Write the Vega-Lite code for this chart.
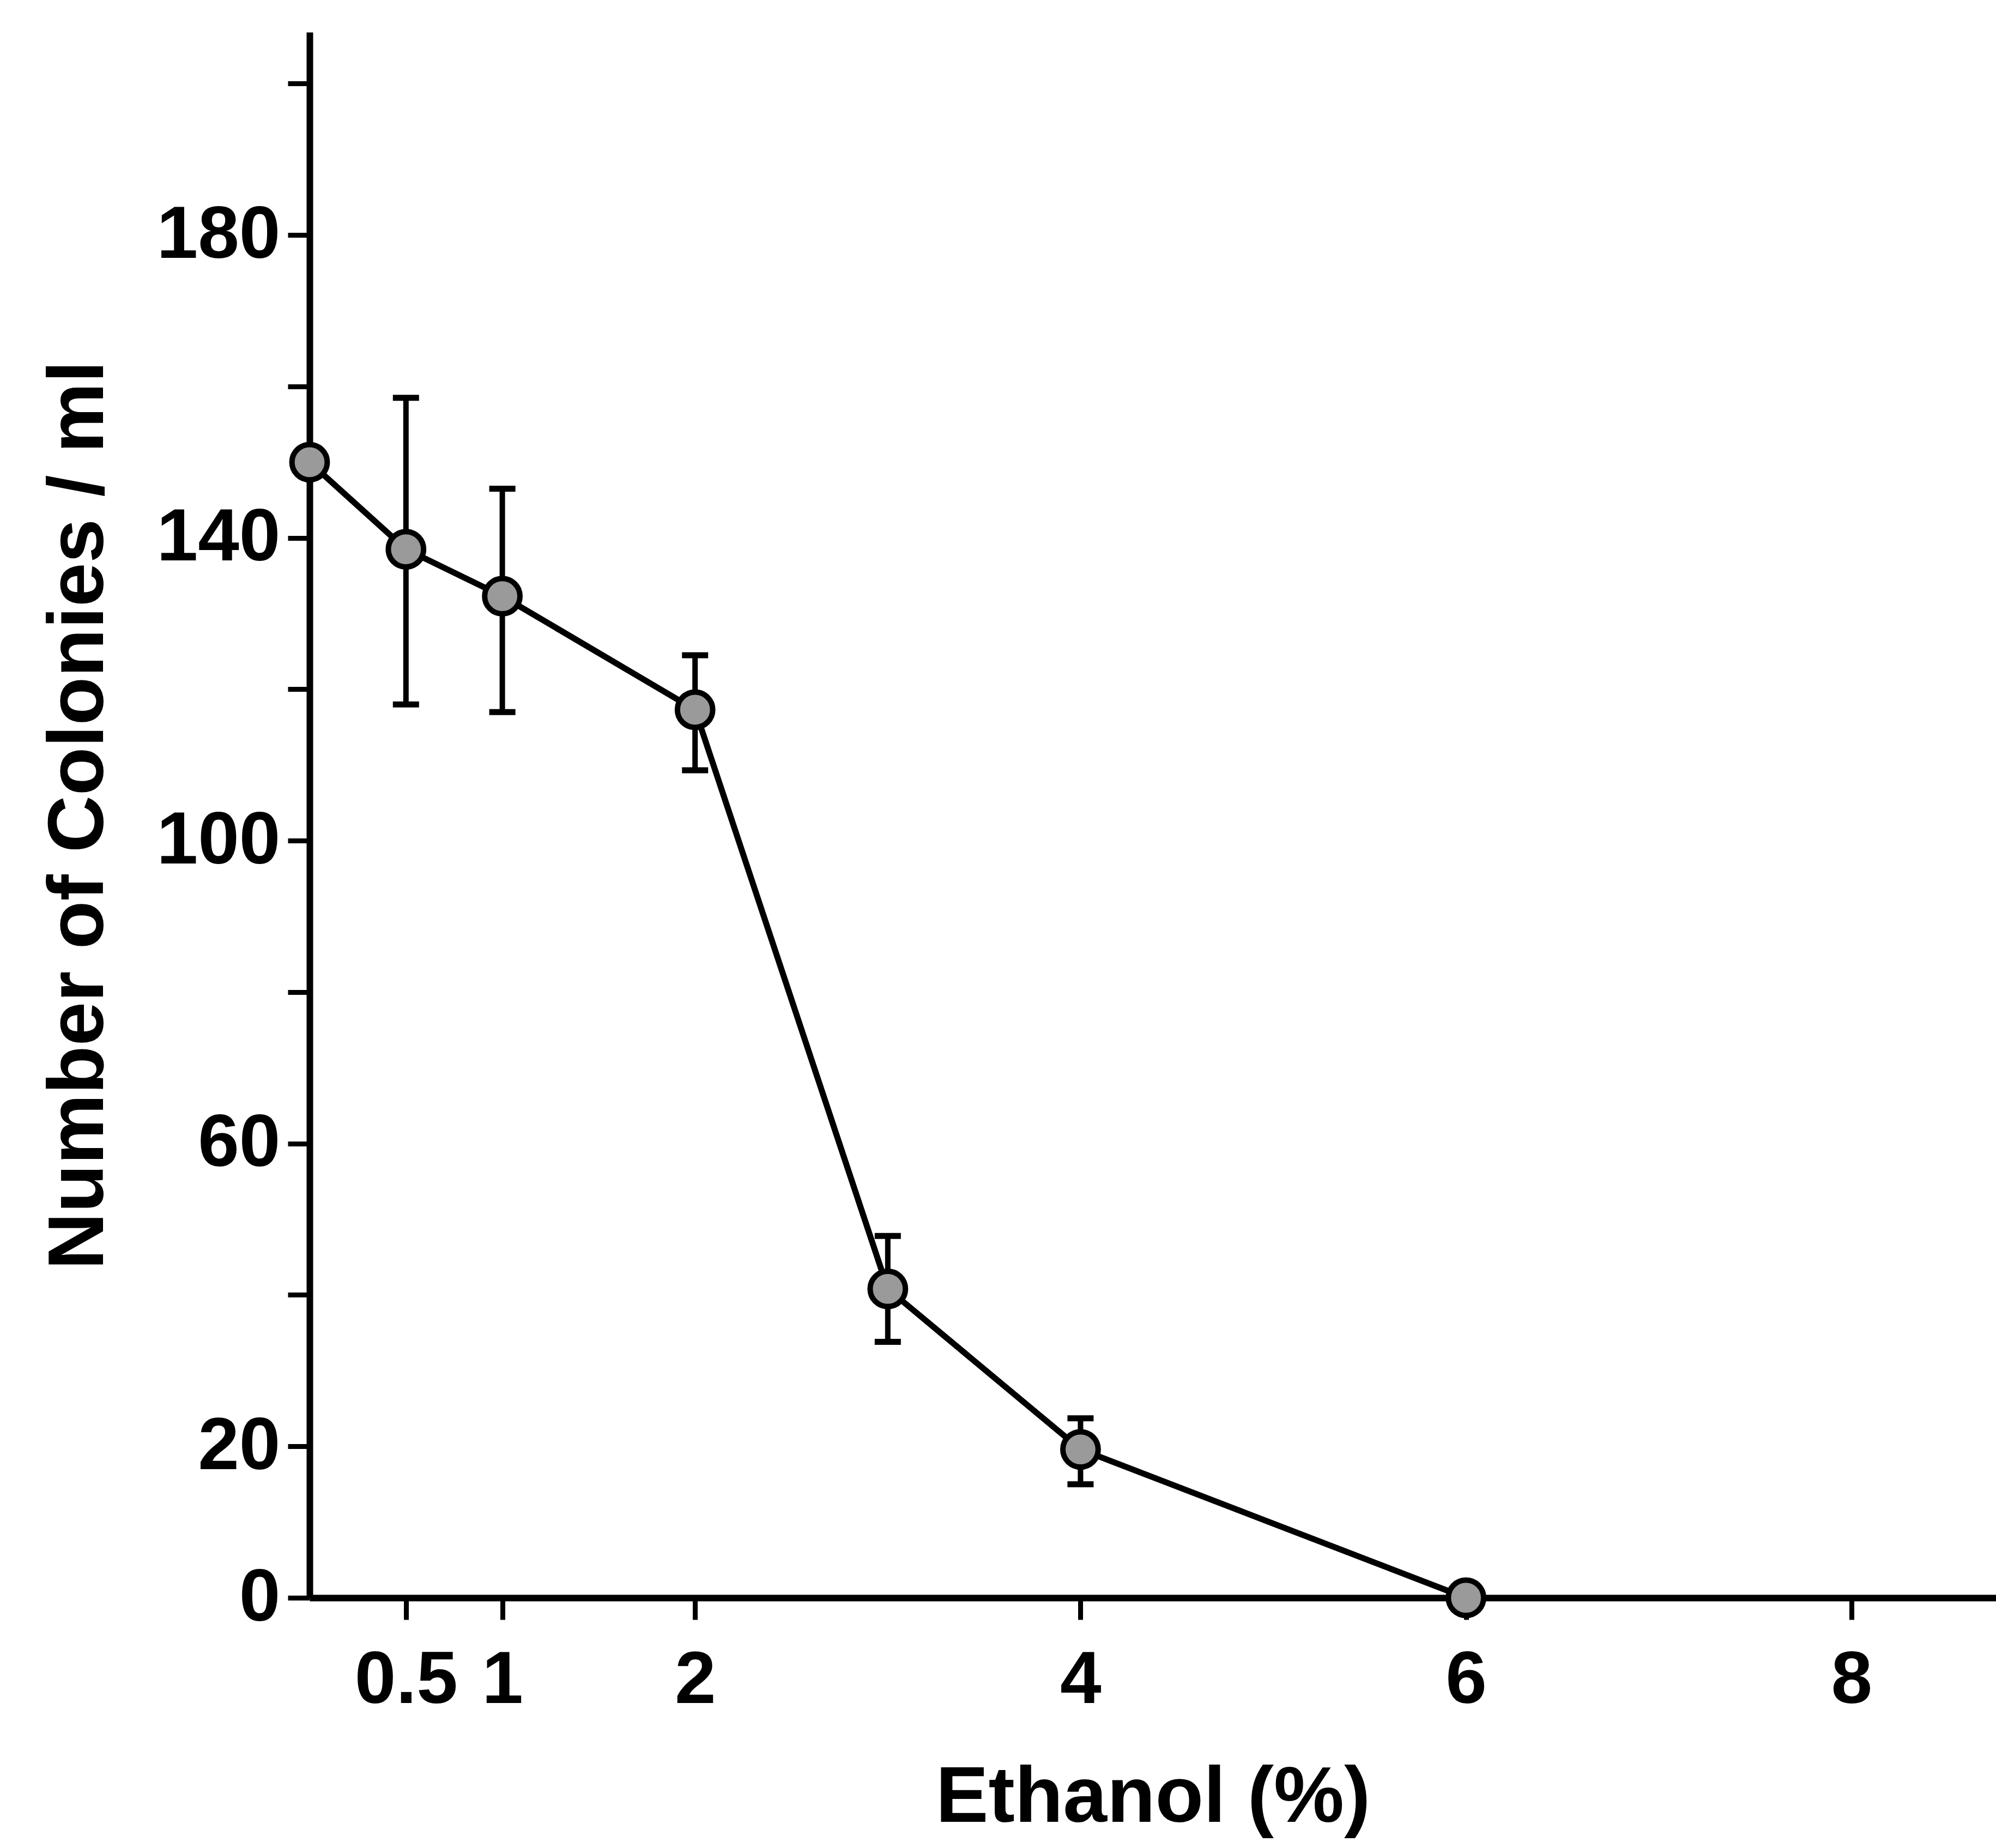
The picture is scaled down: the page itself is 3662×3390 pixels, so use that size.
{
  "$schema": "https://vega.github.io/schema/vega-lite/v6.json",
  "autosize": {"type": "none"},
  "padding": {"left": 568, "top": 59, "right": 0, "bottom": 459},
  "width": 3094,
  "height": 2872,
  "background": "white",
  "config": {
    "view": {"stroke": null},
    "font": "Liberation Sans",
    "axis": {
      "domainColor": "black",
      "domainWidth": 12,
      "tickColor": "black",
      "tickWidth": 9,
      "tickSize": 40,
      "grid": false,
      "labelFont": "Liberation Sans",
      "labelFontSize": 136,
      "labelFontWeight": "bold",
      "labelColor": "black",
      "labelLimit": 0,
      "titleFont": "Liberation Sans",
      "titleFontSize": 145,
      "titleFontWeight": "bold",
      "titleColor": "black",
      "titleLimit": 0
    }
  },
  "data": {
    "values": [
      {"ethanol": 0, "colonies": 150, "lo": null, "hi": null},
      {"ethanol": 0.5, "colonies": 138.5, "lo": 118, "hi": 158.5},
      {"ethanol": 1, "colonies": 132.3, "lo": 117, "hi": 146.5},
      {"ethanol": 2, "colonies": 117.3, "lo": 109.3, "hi": 124.5},
      {"ethanol": 3, "colonies": 40.8, "lo": 33.8, "hi": 47.8},
      {"ethanol": 4, "colonies": 19.6, "lo": 15, "hi": 23.7},
      {"ethanol": 6, "colonies": 0, "lo": null, "hi": null}
    ]
  },
  "encoding": {
    "x": {
      "field": "ethanol",
      "type": "quantitative",
      "scale": {"domain": [0, 8.75], "nice": false, "zero": false},
      "axis": {
        "title": "Ethanol (%)",
        "values": [0.5, 1, 2, 4, 6, 8],
        "format": "~g",
        "labelPadding": 45,
        "titlePadding": 95,
        "labelFlush": false
      }
    },
    "y": {
      "field": "colonies",
      "type": "quantitative",
      "scale": {"domain": [0, 206.8], "nice": false},
      "axis": {
        "title": "Number of  Colonies / ml",
        "values": [0, 20, 40, 60, 80, 100, 120, 140, 160, 180, 200],
        "labelExpr": "indexof([0, 20, 60, 100, 140, 180], datum.value) >= 0 ? datum.label : ''",
        "labelPadding": 14,
        "titlePadding": 150,
        "labelFlush": false
      }
    }
  },
  "layer": [
    {
      "mark": {"type": "rule", "color": "black", "strokeWidth": 10},
      "transform": [{"filter": "datum.lo != null"}],
      "encoding": {"y": {"field": "lo", "type": "quantitative"}, "y2": {"field": "hi"}}
    },
    {
      "mark": {"type": "tick", "orient": "horizontal", "color": "black", "opacity": 1, "size": 48, "thickness": 11},
      "transform": [{"filter": "datum.lo != null"}],
      "encoding": {"y": {"field": "lo", "type": "quantitative"}}
    },
    {
      "mark": {"type": "tick", "orient": "horizontal", "color": "black", "opacity": 1, "size": 48, "thickness": 11},
      "transform": [{"filter": "datum.hi != null"}],
      "encoding": {"y": {"field": "hi", "type": "quantitative"}}
    },
    {
      "mark": {"type": "line", "color": "black", "strokeWidth": 11},
      "encoding": {}
    },
    {
      "mark": {"type": "point", "shape": "circle", "filled": true, "fill": "#9a9a9a", "stroke": "black", "strokeWidth": 10, "size": 4200, "opacity": 1},
      "encoding": {}
    }
  ]
}
